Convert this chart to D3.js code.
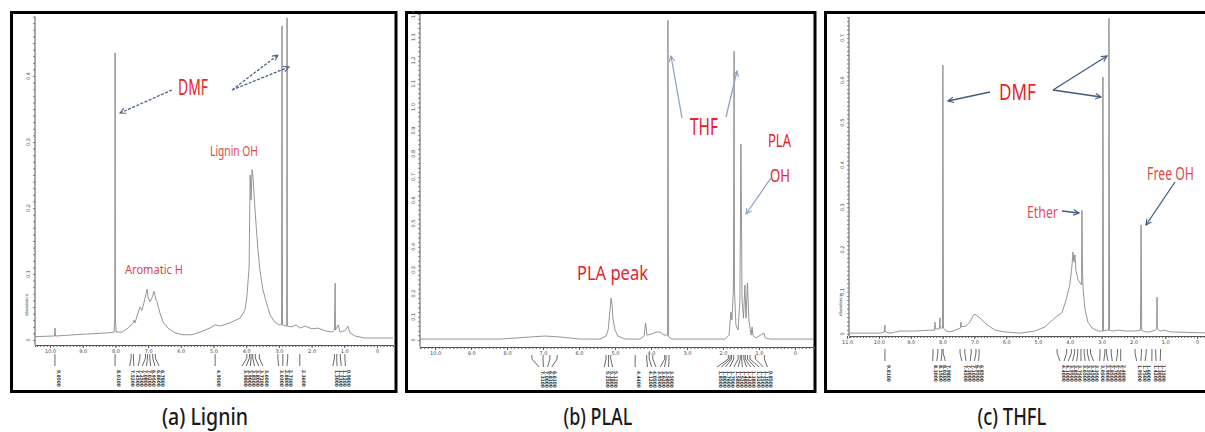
<!DOCTYPE html>
<html>
<head>
<meta charset="utf-8">
<script src="https://cdn.jsdelivr.net/npm/d3@7"></script>
<style>
  body { margin: 0; background: #fff; }
  svg { display: block; }
</style>
</head>
<body>
<div id="chart"></div>
<script>
// 1H NMR spectra (ppm, relative intensity)

// (a) Lignin
let ligninPpm = [10.46, 9.94, 9.86, 9.85, 9.83, 9.24, 8.17, 8.04, 8.02, 8.01, 8.00, 7.98, 7.86, 7.80, 7.61,
  7.46, 7.43, 7.40, 7.31, 7.25, 7.19, 7.13, 7.03, 7.00, 6.94, 6.88, 6.82, 6.76, 6.73, 6.64, 6.54, 6.39,
  6.18, 5.96, 5.66, 5.41, 5.11, 4.95, 4.80, 4.50, 4.19, 4.04, 3.98, 3.91, 3.88, 3.85, 3.82, 3.79, 3.73,
  3.64, 3.58, 3.49, 3.36, 3.27, 3.12, 3.00, 2.92, 2.905, 2.89, 2.76, 2.75, 2.74, 2.60, 2.48, 2.35, 2.20,
  1.99, 1.80, 1.59, 1.38, 1.30, 1.28, 1.27, 1.19, 1.13, 0.98, 0.89, 0.83, 0.67, 0.37, -0.49];
let ligninInt = [0.005, 0.006, 0.006, 0.018, 0.006, 0.008, 0.011, 0.012, 0.033, 0.435, 0.033, 0.012, 0.012, 0.012, 0.018,
  0.026, 0.030, 0.026, 0.041, 0.050, 0.045, 0.056, 0.077, 0.064, 0.058, 0.064, 0.074, 0.061, 0.058, 0.041, 0.027, 0.018,
  0.011, 0.008, 0.008, 0.012, 0.018, 0.023, 0.021, 0.026, 0.033, 0.045, 0.065, 0.111, 0.250, 0.212, 0.258, 0.245, 0.197,
  0.136, 0.106, 0.076, 0.053, 0.038, 0.027, 0.023, 0.023, 0.476, 0.023, 0.021, 0.488, 0.021, 0.020, 0.023, 0.018, 0.021,
  0.017, 0.018, 0.014, 0.012, 0.015, 0.086, 0.015, 0.023, 0.012, 0.014, 0.021, 0.011, 0.006, 0.003, 0.003];

// (b) PLAL
let plalPpm = [10.42, 8.19, 7.36, 6.94, 6.53, 5.97, 5.42, 5.25, 5.19, 5.14, 5.11, 5.08, 5.06, 5.00, 4.92, 4.72,
  4.31, 4.19, 4.15, 4.11, 3.97, 3.86, 3.75, 3.64, 3.54, 3.53, 3.51, 3.42, 1.94, 1.83, 1.78, 1.75, 1.71, 1.69,
  1.68, 1.64, 1.58, 1.53, 1.50, 1.47, 1.43, 1.39, 1.36, 1.32, 1.28, 1.22, 1.19, 1.17, 1.08, 0.86, 0.83, 0.69, -0.53];
let plalInt = [0.004, 0.004, 0.013, 0.017, 0.013, 0.004, 0.004, 0.017, 0.043, 0.129, 0.180, 0.150, 0.094, 0.043, 0.017, 0.004,
  0.004, 0.017, 0.073, 0.021, 0.026, 0.034, 0.034, 0.021, 0.021, 1.373, 0.013, 0.004, 0.004, 0.021, 0.120, 0.086, 0.215, 1.240,
  0.215, 0.064, 0.043, 0.172, 0.841, 0.172, 0.094, 0.236, 0.094, 0.245, 0.086, 0.021, 0.056, 0.021, 0.009, 0.030, 0.009, 0.004, 0.004];

// (c) THFL
let thflPpm = [10.94, 9.97, 9.83, 9.81, 9.80, 9.65, 9.34, 8.87, 8.40, 8.25, 8.24, 8.22, 8.10, 8.08, 8.07, 8.00, 7.99,
  7.97, 7.89, 7.77, 7.61, 7.44, 7.42, 7.41, 7.26, 7.14, 7.04, 6.98, 6.92, 6.82, 6.67, 6.51, 6.35, 6.04, 5.57,
  5.09, 4.78, 4.47, 4.25, 4.12, 4.00, 3.93, 3.90, 3.87, 3.84, 3.81, 3.74, 3.63, 3.62, 3.60, 3.58, 3.52, 3.43,
  3.30, 3.11, 2.97, 2.96, 2.94, 2.86, 2.78, 2.77, 2.75, 2.67, 2.48, 2.26, 1.95, 1.78, 1.77, 1.76, 1.75, 1.74,
  1.64, 1.48, 1.32, 1.27, 1.26, 1.25, 1.16, 1.01, 0.85, -0.50];
let thflInt = [0.002, 0.002, 0.005, 0.021, 0.005, 0.002, 0.007, 0.007, 0.009, 0.009, 0.028, 0.012, 0.012, 0.038, 0.014, 0.014, 0.636,
  0.014, 0.007, 0.005, 0.009, 0.014, 0.028, 0.017, 0.019, 0.028, 0.043, 0.047, 0.043, 0.038, 0.026, 0.017, 0.009, 0.005, 0.002,
  0.007, 0.017, 0.038, 0.050, 0.080, 0.116, 0.163, 0.194, 0.170, 0.187, 0.151, 0.128, 0.116, 0.293, 0.147, 0.104, 0.057, 0.028,
  0.014, 0.007, 0.007, 0.608, 0.007, 0.009, 0.009, 0.747, 0.009, 0.007, 0.009, 0.007, 0.007, 0.009, 0.132, 0.258, 0.132, 0.009,
  0.005, 0.005, 0.009, 0.012, 0.087, 0.012, 0.007, 0.009, 0.005, 0.002];

// peak-pick groups (ppm)
let ligninPicks = [[9.85], [8.01], [7.52, 7.45, 7.25, 7.08, 7.02, 6.95, 6.86, 6.78], [4.95],
  [3.98, 3.90, 3.85, 3.80, 3.72, 3.60], [3.03, 2.88, 2.73], [2.36], [1.30, 1.23, 1.12, 0.98]];
let plalPicks = [[7.31, 7.00, 6.81, 6.61], [5.25, 5.18, 5.12], [4.44], [4.12, 4.05, 3.95, 3.62, 3.58, 3.50],
  [1.85, 1.80, 1.76, 1.70, 1.58, 1.52, 1.48, 1.42, 1.38, 1.32, 1.25, 1.10, 0.85]];
let thflPicks = [[9.81], [8.30, 8.15, 8.02, 7.98], [7.45, 7.30, 7.10, 6.95, 6.85],
  [4.40, 4.10, 3.95, 3.85, 3.75, 3.65, 3.55, 3.45, 3.35], [3.05, 2.90, 2.85, 2.70, 2.50, 2.40],
  [1.95, 1.75, 1.60], [1.42, 1.30, 1.15]];

// tick labels
let ppmTicks = [10, 9, 8, 7, 6, 5, 4, 3, 2, 1, 0];
let ppmTicksC = [11, 10, 9, 8, 7, 6, 5, 4, 3, 2, 1, 0];
let ligninYTicks = [0, 0.1, 0.2, 0.3, 0.4];
let plalYTicks = [0, 0.1, 0.2, 0.3, 0.4, 0.5, 0.6, 0.7, 0.8, 0.9, 1.0, 1.1, 1.2, 1.3, 1.4];
let thflYTicks = [0, 0.1, 0.2, 0.3, 0.4, 0.5, 0.6, 0.7];

let titles = ["(a) Lignin", "(b) PLAL", "(c) THFL"];

// ---- drawing ----
let width = 1205;
let height = 432;

let svg = d3.select("#chart")
  .append("svg")
  .attr("width", width)
  .attr("height", height);

// arrow heads
let defs = svg.append("defs");
[["arrA", "#4d6584"], ["arrB", "#8ea4c4"], ["arrC", "#3f5c82"]].forEach(([id, col]) => {
  defs.append("marker")
    .attr("id", id)
    .attr("viewBox", "0 0 10 10")
    .attr("refX", 9).attr("refY", 5)
    .attr("markerWidth", 7).attr("markerHeight", 7)
    .attr("markerUnits", "userSpaceOnUse")
    .attr("orient", "auto")
    .append("path")
    .attr("d", "M1,1 L9,5 L1,9")
    .attr("fill", "none")
    .attr("stroke", col)
    .attr("stroke-width", 1.6);
});

// panel frames
let frames = [[11.5, 12.5, 384.5, 379], [406.5, 12.5, 408.5, 379], [825.5, 12.5, 400, 379]];
frames.forEach(f => {
  svg.append("rect")
    .attr("x", f[0]).attr("y", f[1])
    .attr("width", f[2]).attr("height", f[3])
    .attr("fill", "#fff")
    .attr("stroke", "#000")
    .attr("stroke-width", 3);
});

function drawPanel(p) {
  let g = svg.append("g");

  let fnX = d3.scaleLinear().domain(p.xDomain).range([p.x0, p.x1]);
  let fnY = d3.scaleLinear().domain(p.yDomain).range([p.yZero, p.yTop]);

  // x axis: dotted minor ticks + major labels
  g.append("g")
    .attr("transform", `translate(0, ${p.axisY})`)
    .call(d3.axisBottom(fnX).ticks(110).tickSize(2).tickFormat(""))
    .call(a => a.select(".domain").attr("stroke", "#555"))
    .call(a => a.selectAll(".tick line").attr("stroke", "#555").attr("stroke-width", 0.9));
  g.append("g")
    .attr("transform", `translate(0, ${p.axisY})`)
    .call(d3.axisBottom(fnX).tickValues(p.xTicks).tickSize(3)
      .tickFormat(d => d === 0 ? "0" : d.toFixed(1)))
    .call(a => a.select(".domain").remove())
    .call(a => a.selectAll(".tick line").attr("stroke", "#555"))
    .call(a => a.selectAll(".tick text").attr("font-size", 5).attr("fill", "#444")
      .attr("font-family", "DejaVu Sans").attr("dy", "0.3em"));

  // y axis
  let yEnd = fnY(p.yDomain[1]);
  g.append("g")
    .attr("transform", `translate(${p.x0}, 0)`)
    .call(d3.axisLeft(fnY).ticks(p.yMinor).tickSize(2).tickFormat(""))
    .call(a => a.select(".domain").attr("stroke", "#555").attr("d", `M0,${p.axisY}V${yEnd}`))
    .call(a => a.selectAll(".tick line").attr("stroke", "#666").attr("stroke-width", 0.8));
  g.append("g")
    .selectAll("text")
    .data(p.yTicks)
    .enter()
    .append("text")
    .attr("transform", d => `translate(${p.x0 - 5}, ${fnY(d)}) rotate(-90)`)
    .attr("text-anchor", "middle")
    .attr("font-size", 5)
    .attr("font-family", "DejaVu Sans")
    .attr("fill", "#444")
    .text(d => d === 0 ? "0" : d.toFixed(1));
  if (p.abundance) {
    g.append("text")
      .attr("transform", `translate(${p.x0 - 7}, ${p.abundance}) rotate(-90)`)
      .attr("text-anchor", "middle")
      .attr("font-size", 4)
      .attr("font-family", "DejaVu Sans")
      .attr("fill", "#444")
      .text("Abundance");
  }

  // spectrum
  let pts = p.ppm.map((d, i) => [d, p.inten[i]]);
  g.append("path")
    .datum(pts)
    .attr("fill", "none")
    .attr("stroke", "#8a8a8a")
    .attr("stroke-width", 0.9)
    .attr("d", d3.line().x(d => fnX(d[0])).y(d => fnY(d[1])));

  // peak picks: fan lines + rotated values
  let y0 = p.pickY;
  p.picks.forEach(grp => {
    let cx = d3.mean(grp, d => fnX(d));
    grp.forEach((d, i) => {
      let lx = cx + (i - (grp.length - 1) / 2) * 4.2;
      g.append("path")
        .attr("d", `M${fnX(d)},${y0} L${fnX(d)},${y0 + 4} L${lx},${y0 + 12}`)
        .attr("fill", "none")
        .attr("stroke", "#444")
        .attr("stroke-width", 0.8);
      g.append("text")
        .attr("transform", `translate(${lx + 1.7}, ${y0 + 16}) rotate(90)`)
        .attr("font-size", 4.8)
        .attr("font-weight", "bold")
        .attr("font-family", "DejaVu Sans Condensed")
        .attr("fill", "#333")
        .text(d.toFixed(4));
    });
  });
}

drawPanel({
  ppm: ligninPpm, inten: ligninInt, picks: ligninPicks,
  xDomain: [10.46, -0.49], x0: 35, x1: 393,
  yDomain: [0, 0.49], yZero: 340, yTop: 16.6,
  axisY: 345, pickY: 354, xTicks: ppmTicks, yTicks: ligninYTicks, yMinor: 50, abundance: 305
});
drawPanel({
  ppm: plalPpm, inten: plalInt, picks: plalPicks,
  xDomain: [10.42, -0.53], x0: 420, x1: 814,
  yDomain: [0, 1.4], yZero: 340, yTop: 14,
  axisY: 347, pickY: 355, xTicks: ppmTicks, yTicks: plalYTicks, yMinor: 70, abundance: null
});
drawPanel({
  ppm: thflPpm, inten: thflInt, picks: thflPicks,
  xDomain: [10.94, -0.5], x0: 849, x1: 1213,
  yDomain: [0, 0.75], yZero: 334, yTop: 17,
  axisY: 336, pickY: 349, xTicks: ppmTicksC, yTicks: thflYTicks, yMinor: 75, abundance: 305
});

// text squeezed horizontally to the width it has in the picture
function fitText(txt, x, y, size, len, col, anchor, weight) {
  let t = svg.append("text")
    .attr("font-family", "Noto Sans")
    .attr("font-size", size)
    .attr("font-weight", weight || null)
    .attr("fill", col)
    .text(txt);
  let w = t.node().getComputedTextLength();
  let sx = len / w;
  let left = anchor === "middle" ? x - len / 2 : x;
  t.attr("transform", `translate(${left}, ${y}) scale(${sx}, 1)`);
  return t;
}
function arrow(x1, y1, x2, y2, mk, col, dash) {
  svg.append("line")
    .attr("x1", x1).attr("y1", y1).attr("x2", x2).attr("y2", y2)
    .attr("stroke", col)
    .attr("stroke-width", 1.3)
    .attr("stroke-dasharray", dash || null)
    .attr("marker-end", `url(#${mk})`);
}

// (a)
fitText("DMF", 178, 95, 21, 30, "#e5262c");
fitText("Lignin OH", 210, 156, 14, 48, "#e04a4a");
fitText("Aromatic H", 125, 274, 12.5, 58, "#dc4452");
arrow(172, 90, 120, 113, "arrA", "#4d6584", "3,1.5");
arrow(232, 90, 278, 55, "arrA", "#4d6584", "3,1.5");
arrow(232, 90, 289, 67, "arrA", "#4d6584", "3,1.5");

// (b)
fitText("THF", 690, 135, 23, 28, "#e6222a");
fitText("PLA", 768, 147, 19, 23, "#e6222a");
fitText("OH", 770, 182, 19, 20, "#e6222a");
fitText("PLA peak", 577, 280, 20, 71, "#e6222a");
arrow(682, 118, 671, 56, "arrB", "#8ea4c4");
arrow(726, 117, 737, 71, "arrB", "#8ea4c4");
arrow(771, 178, 746, 214, "arrB", "#8ea4c4");

// (c)
fitText("DMF", 999, 100, 22, 37, "#e5262c");
fitText("Free OH", 1147, 180, 18, 47, "#e04a4a");
fitText("Ether", 1027, 218, 16, 31, "#e0505e");
arrow(990, 92, 948, 101, "arrC", "#3f5c82");
arrow(1053, 90, 1107, 56, "arrC", "#3f5c82");
arrow(1053, 90, 1101, 97, "arrC", "#3f5c82");
arrow(1175, 182, 1146, 225, "arrC", "#3f5c82");
arrow(1062, 211, 1079, 213, "arrC", "#3f5c82");

// panel captions
[[205, titles[0]], [598, titles[1]], [1012, titles[2]]].forEach(([cx, t]) => {
  fitText(t, cx, 425, 23, t.length * 8.6, "#1a1a1a", "middle", 500);
});
</script>
</body>
</html>
